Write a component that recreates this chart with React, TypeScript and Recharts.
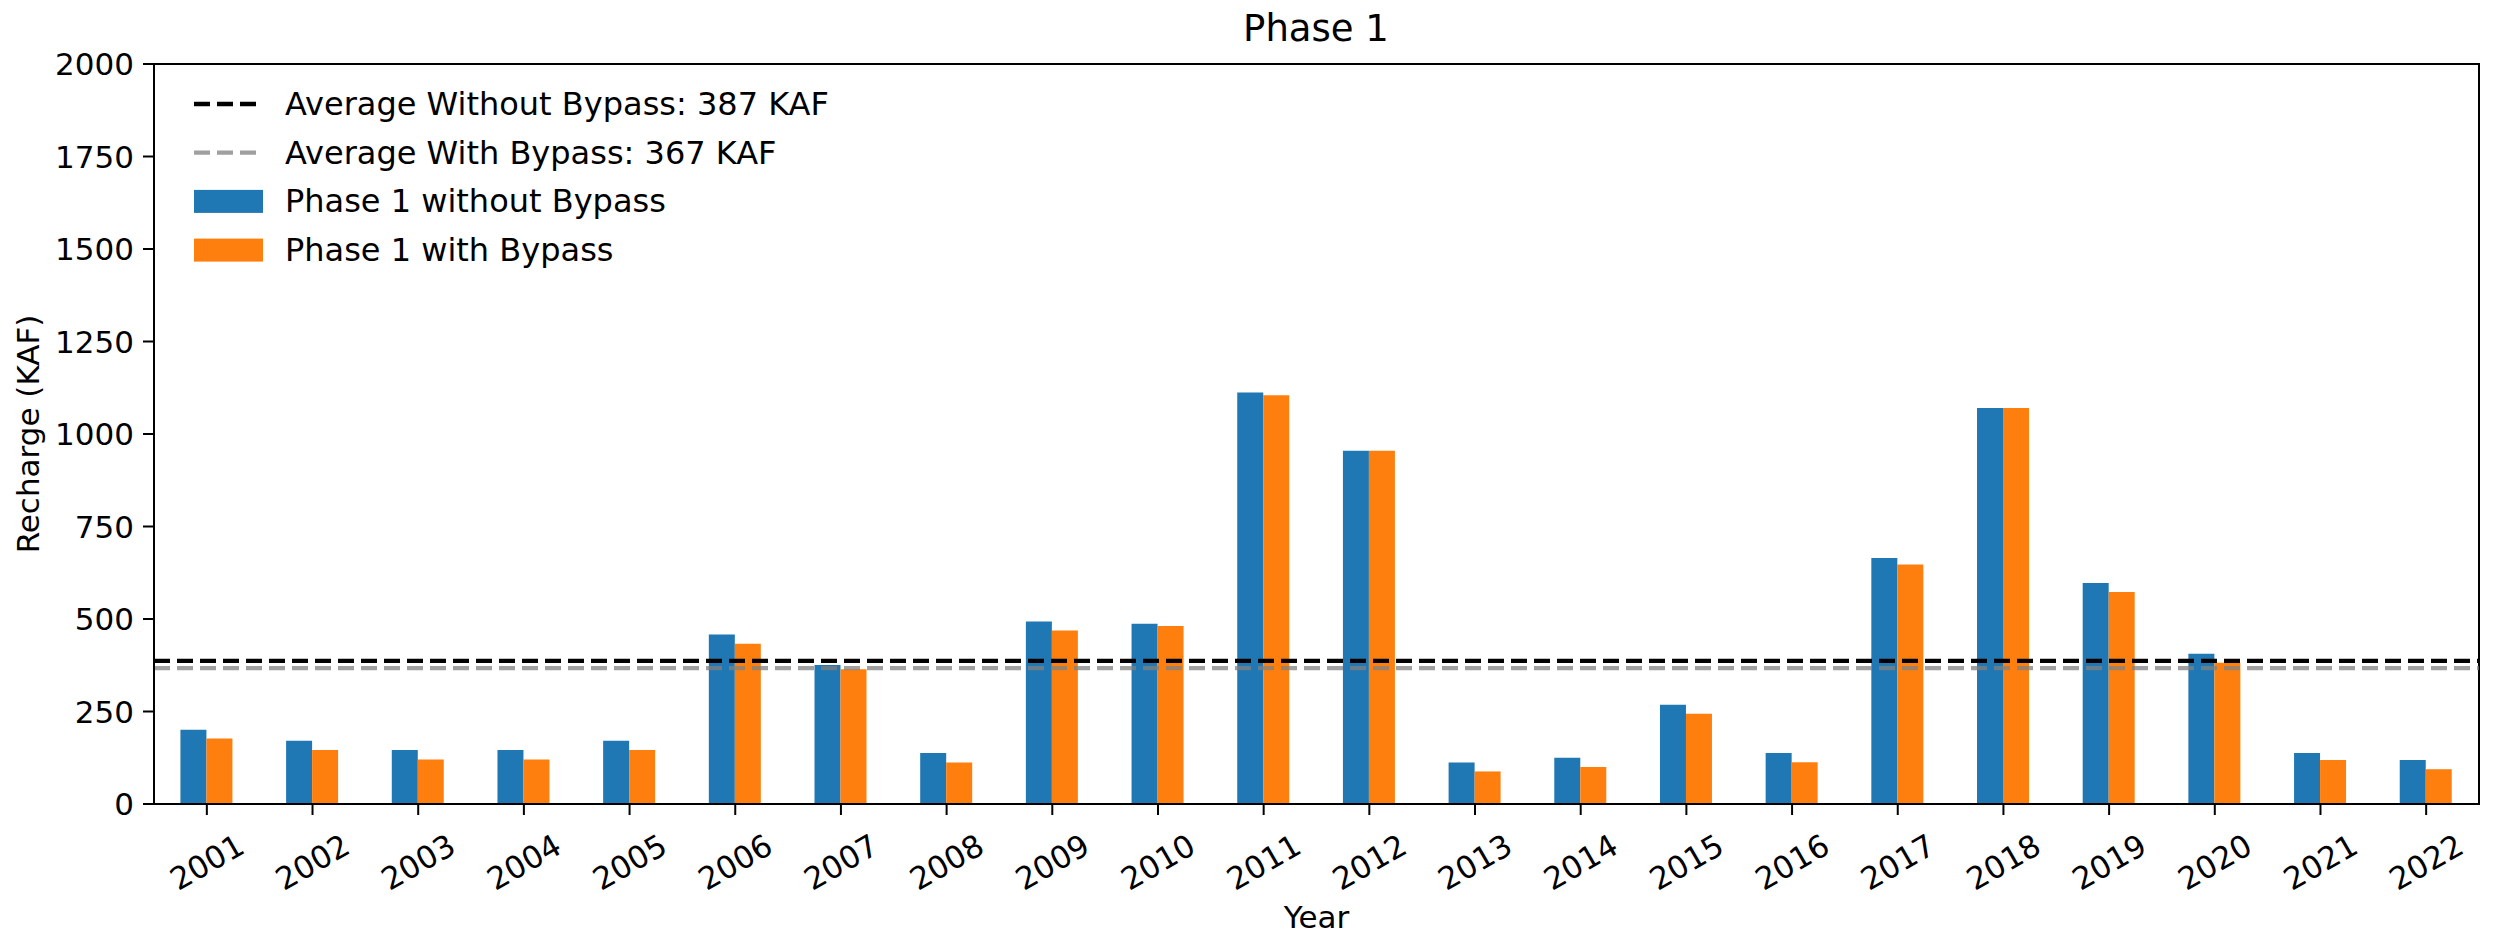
import { BarChart, Bar, XAxis, YAxis, ReferenceLine, ReferenceArea, Legend } from 'recharts';

const years = [
  '2001', '2002', '2003', '2004', '2005', '2006', '2007', '2008', '2009', '2010', '2011',
  '2012', '2013', '2014', '2015', '2016', '2017', '2018', '2019', '2020', '2021', '2022',
];
const withoutBypass = [201, 171, 146, 146, 171, 458, 376, 138, 493, 487, 1112, 955, 112, 125, 268, 138, 665, 1070, 597, 406, 138, 119];
const withBypass = [177, 146, 120, 120, 146, 433, 364, 112, 469, 481, 1105, 955, 88, 100, 244, 113, 647, 1070, 573, 382, 119, 94];
const avgWithout = 387;
const avgWith = 367;
const yTicks = [0, 250, 500, 750, 1000, 1250, 1500, 1750, 2000];

const data = years.map((year, i) => ({ year, without: withoutBypass[i], with: withBypass[i] }));

const FONT = 'DejaVu Sans';
const FS = 31;
const BLUE = '#1f77b4';
const ORANGE = '#ff7f0e';
const DASH = '16 7';

function XTick({ x, y, payload }: any) {
  return (
    <text
      x={0}
      y={0}
      transform={`translate(${x},${y + 45}) rotate(-30)`}
      textAnchor="middle"
      dominantBaseline="central"
      fontFamily={FONT}
      fontSize={FS}
      fill="#000"
    >
      {payload.value}
    </text>
  );
}

function LegendBox() {
  const rows = [
    { label: `Average Without Bypass: ${avgWithout} KAF`, kind: 'line', color: '#000', opacity: 1 },
    { label: `Average With Bypass: ${avgWith} KAF`, kind: 'line', color: 'gray', opacity: 0.75 },
    { label: 'Phase 1 without Bypass', kind: 'rect', color: BLUE, opacity: 1 },
    { label: 'Phase 1 with Bypass', kind: 'rect', color: ORANGE, opacity: 1 },
  ];
  return (
    <svg width={800} height={220}>
      {rows.map((r, i) => {
        const cy = 34 + i * 48.7;
        return (
          <g key={r.label}>
            {r.kind === 'line' ? (
              <line x1={14} x2={83} y1={cy} y2={cy} stroke={r.color} strokeOpacity={r.opacity} strokeWidth={4.3} strokeDasharray={DASH} />
            ) : (
              <rect x={14} y={cy - 11.5} width={69} height={23} fill={r.color} />
            )}
            <text x={105} y={cy} dominantBaseline="central" fontFamily={FONT} fontSize={32} fill="#000">
              {r.label}
            </text>
          </g>
        );
      })}
    </svg>
  );
}

export default function App() {
  return (
    <div style={{ position: 'absolute', left: 0, top: 0, width: 2496, height: 936, background: '#fff' }}>
      <BarChart
        width={2496}
        height={936}
        data={data}
        margin={{ top: 64, right: 17, left: 0, bottom: 0 }}
        barCategoryGap="25%"
        barGap={0}
      >
        <text x={1316} y={28} textAnchor="middle" dominantBaseline="central" fontFamily={FONT} fontSize={37} fill="#000">
          Phase 1
        </text>
        <XAxis
          dataKey="year"
          height={132}
          stroke="#000"
          axisLine={{ stroke: '#000', strokeWidth: 2 }}
          tickLine={{ stroke: '#000', strokeWidth: 2 }}
          tickSize={11}
          tick={<XTick />}
          interval={0}
          label={{ value: 'Year', position: 'insideBottom', offset: 8, fontFamily: FONT, fontSize: FS, fill: '#000' }}
        />
        <YAxis
          width={154}
          domain={[0, 2000]}
          ticks={yTicks}
          interval={0}
          stroke="#000"
          axisLine={{ stroke: '#000', strokeWidth: 2 }}
          tickLine={{ stroke: '#000', strokeWidth: 2 }}
          tickSize={11}
          tickMargin={9}
          tick={{ fontFamily: FONT, fontSize: FS, fill: '#000' }}
          label={{ value: 'Recharge (KAF)', angle: -90, position: 'insideLeft', offset: 28, style: { textAnchor: 'middle' }, fontFamily: FONT, fontSize: FS, fill: '#000' }}
        />
        <Bar dataKey="without" name="Phase 1 without Bypass" fill={BLUE} isAnimationActive={false} />
        <Bar dataKey="with" name="Phase 1 with Bypass" fill={ORANGE} isAnimationActive={false} />
        <ReferenceLine y={avgWithout} stroke="#000" strokeWidth={4.3} strokeDasharray={DASH} />
        <ReferenceLine y={avgWith} stroke="gray" strokeOpacity={0.75} strokeWidth={4.3} strokeDasharray={DASH} />
        <ReferenceArea y1={0} y2={2000} fill="none" fillOpacity={0} stroke="#000" strokeWidth={2} strokeOpacity={1} />
        <Legend
          layout="vertical"
          align="center"
          verticalAlign="middle"
          wrapperStyle={{ left: 180, top: 70, width: 800, height: 220 }}
          content={() => <LegendBox />}
        />
      </BarChart>
    </div>
  );
}
